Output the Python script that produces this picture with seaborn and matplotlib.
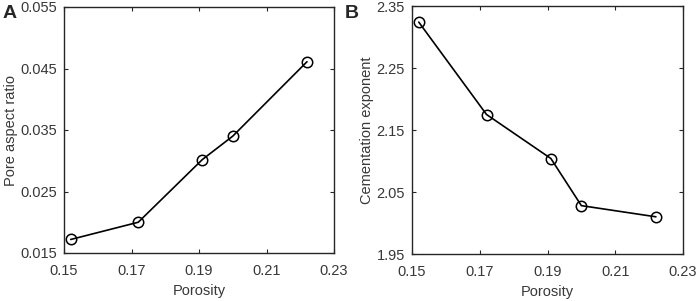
import matplotlib
matplotlib.use("Agg")
import matplotlib.pyplot as plt
import seaborn as sns
import pandas as pd

porosity = [0.152, 0.172, 0.191, 0.200, 0.222]
aspect_ratio = [0.0172, 0.0200, 0.0302, 0.0340, 0.0461]
cementation = [2.324, 2.175, 2.104, 2.028, 2.010]

xticks = [0.15, 0.17, 0.19, 0.21, 0.23]
yticks_a = [0.015, 0.025, 0.035, 0.045, 0.055]
yticks_b = [1.95, 2.05, 2.15, 2.25, 2.35]

sns.set_style("ticks")
plt.rcParams['font.family'] = ['Liberation Sans', 'DejaVu Sans']
plt.rcParams['xtick.direction'] = 'in'
plt.rcParams['ytick.direction'] = 'in'

df = pd.DataFrame({"Porosity": porosity, "ar": aspect_ratio, "m": cementation})

W, H = 699, 301
fig = plt.figure(figsize=(W / 100, H / 100), dpi=100)
ax1 = fig.add_axes([64 / W, 1 - 253 / H, (334 - 64) / W, (253 - 7) / H])
ax2 = fig.add_axes([412 / W, 1 - 254 / H, (683 - 412) / W, (254 - 6) / H])

frame = '#262626'
txt = '#383838'
fs = 10.5
for ax, col, yt, ylab in [
    (ax1, "ar", yticks_a, "Pore aspect ratio"),
    (ax2, "m", yticks_b, "Cementation exponent"),
]:
    sns.lineplot(data=df, x="Porosity", y=col, ax=ax, color='black', lw=1.2,
                 marker='o', markersize=7.5, markerfacecolor='none',
                 markeredgecolor='black', markeredgewidth=1.1)
    ax.set_xlim(xticks[0], xticks[-1])
    ax.set_ylim(yt[0], yt[-1])
    ax.set_xticks(xticks)
    ax.set_yticks(yt)
    ax.set_xticklabels([f"{v:.2f}" for v in xticks])
    if col == "ar":
        ax.set_yticklabels([f"{v:.3f}" for v in yt])
    else:
        ax.set_yticklabels([f"{v:.2f}" for v in yt])
    ax.tick_params(axis='both', which='both', direction='in', length=3, width=0.8,
                   colors=frame, labelsize=fs, labelcolor=txt,
                   top=True, right=True)
    ax.tick_params(axis='x', pad=8)
    ax.tick_params(axis='y', pad=5)
    for s in ax.spines.values():
        s.set_visible(True)
        s.set_color(frame)
        s.set_linewidth(1.0)
    ax.set_xlabel("Porosity", fontsize=fs, color=txt, labelpad=4)
    ax.set_ylabel(ylab, fontsize=fs, color=txt, labelpad=1.5)

fig.text(3 / W, 1 - 5 / H, "A", fontsize=14, fontweight='bold', va='top', ha='left')
fig.text(345 / W, 1 - 5 / H, "B", fontsize=14, fontweight='bold', va='top', ha='left')

fig.savefig("out.png", dpi=100)
